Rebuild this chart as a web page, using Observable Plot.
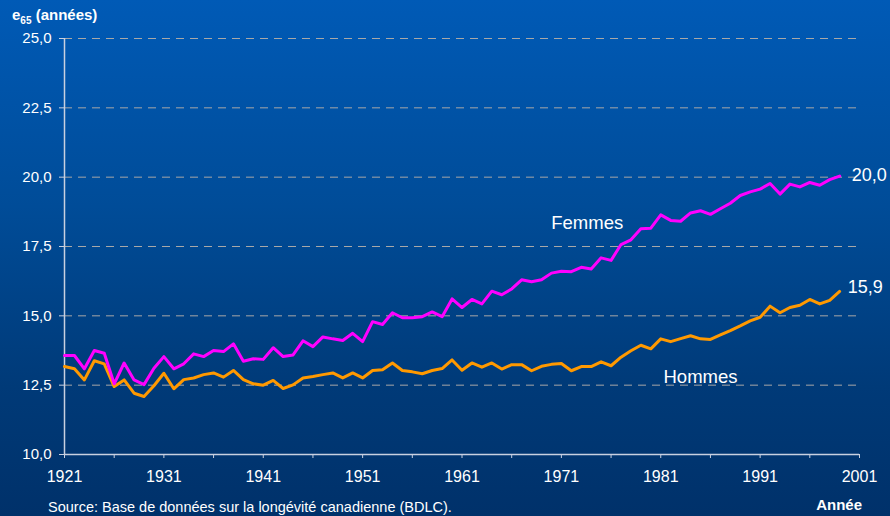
<!DOCTYPE html>
<html>
<head>
<meta charset="utf-8">
<script src="https://cdn.jsdelivr.net/npm/d3@7"></script>
<script src="https://cdn.jsdelivr.net/npm/@observablehq/plot@0.6"></script>
<style>
  html, body { margin: 0; padding: 0; }
  body { width: 890px; height: 516px; overflow: hidden; }
  #wrap {
    position: relative; width: 890px; height: 516px;
    background: linear-gradient(to bottom, #005ab6 0%, #004c98 40%, #003a78 75%, #00316a 100%);
    font-family: "Liberation Sans", Arial, sans-serif; color: #fff;
  }
  #title { position: absolute; left: 12px; top: 6px; font-size: 15px; font-weight: bold; }
  #title sub { font-size: 10px; }
  #source { position: absolute; left: 48px; top: 500px; font-size: 14.5px; line-height: 1; }
  #annee { position: absolute; right: 28px; top: 497px; font-size: 15px; font-weight: bold; line-height: 1; }
  svg { position: absolute; left: 0; top: 0; }
</style>
</head>
<body>
<div id="wrap">
  <div id="chart"></div>
  <div id="title">e<sub>65</sub> (années)</div>
  <div id="source">Source: Base de données sur la longévité canadienne (BDLC).</div>
  <div id="annee">Année</div>
</div>
<script>
const years = [1921,1922,1923,1924,1925,1926,1927,1928,1929,1930,
  1931,1932,1933,1934,1935,1936,1937,1938,1939,1940,
  1941,1942,1943,1944,1945,1946,1947,1948,1949,1950,
  1951,1952,1953,1954,1955,1956,1957,1958,1959,1960,
  1961,1962,1963,1964,1965,1966,1967,1968,1969,1970,
  1971,1972,1973,1974,1975,1976,1977,1978,1979,1980,
  1981,1982,1983,1984,1985,1986,1987,1988,1989,1990,
  1991,1992,1993,1994,1995,1996,1997,1998,1999];

const femmes = [13.57,13.57,13.09,13.75,13.65,12.55,13.30,12.69,12.52,13.11,
  13.53,13.09,13.27,13.63,13.53,13.75,13.71,13.99,13.36,13.45,
  13.43,13.85,13.53,13.59,14.10,13.89,14.24,14.17,14.11,14.37,
  14.07,14.79,14.69,15.11,14.93,14.93,14.97,15.14,14.97,15.61,
  15.30,15.59,15.43,15.89,15.76,15.97,16.30,16.23,16.30,16.54,
  16.61,16.59,16.75,16.69,17.09,17.00,17.57,17.74,18.14,18.16,
  18.64,18.44,18.41,18.71,18.79,18.66,18.86,19.06,19.34,19.47,
  19.57,19.77,19.39,19.75,19.65,19.81,19.71,19.91,20.04];

const hommes = [13.17,13.09,12.69,13.38,13.27,12.45,12.69,12.21,12.09,12.48,
  12.93,12.37,12.70,12.76,12.88,12.94,12.79,13.03,12.70,12.55,
  12.50,12.67,12.38,12.51,12.76,12.81,12.88,12.94,12.76,12.94,
  12.76,13.03,13.06,13.30,13.03,12.98,12.91,13.03,13.10,13.41,
  13.04,13.30,13.15,13.30,13.08,13.24,13.24,13.02,13.18,13.25,
  13.28,13.02,13.17,13.17,13.34,13.20,13.51,13.74,13.94,13.81,
  14.17,14.07,14.18,14.28,14.17,14.15,14.31,14.47,14.64,14.82,
  14.95,15.35,15.11,15.30,15.38,15.59,15.43,15.56,15.88];

const yTicks = [10, 12.5, 15, 17.5, 20, 22.5, 25];
const xTickMarks = [1921,1926,1931,1936,1941,1946,1951,1956,1961,1966,1971,1976,1981,1986,1991,1996,2001];
const xTickLabels = [1921,1931,1941,1951,1961,1971,1981,1991,2001];
const seriesLabels = [
  {x: 1973.6, y: 18.35, text: "Femmes"},
  {x: 1985.0, y: 12.8, text: "Hommes"}
];
const endLabels = ["20,0", "15,9"];

const fmt = d => d.toFixed(1).replace(".", ",");
const fData = years.map((y, i) => ({year: y, v: femmes[i]}));
const hData = years.map((y, i) => ({year: y, v: hommes[i]}));
const last = years.length - 1;
const ends = [
  {year: years[last], v: femmes[last], text: endLabels[0]},
  {year: years[last], v: hommes[last], text: endLabels[1]}
];

const axisColor = "#c8d0e0";
const plot = Plot.plot({
  width: 890,
  height: 516,
  marginLeft: 64,
  marginRight: 31,
  marginTop: 38,
  marginBottom: 62,
  style: {background: "transparent", color: "#fff", fontFamily: "Liberation Sans, Arial, sans-serif", overflow: "visible"},
  x: {domain: [1921, 2001]},
  y: {domain: [10, 25]},
  marks: [
    Plot.ruleY(yTicks.filter(d => d > 10), {stroke: "#a8a8a8", strokeWidth: 1, strokeDasharray: "8,6"}),
    Plot.ruleX([1921], {stroke: axisColor, strokeWidth: 1.5}),
    Plot.ruleY([10], {stroke: axisColor, strokeWidth: 1.5}),
    Plot.axisY({ticks: yTicks, tickSize: 5, tickPadding: 8, tickFormat: fmt, stroke: axisColor, fill: "#fff", fontSize: 15, label: null}),
    Plot.axisX({ticks: xTickMarks, tickSize: 4, tickFormat: () => "", stroke: axisColor, label: null}),
    Plot.axisX({ticks: xTickLabels, tickSize: 0, tickPadding: 16, tickFormat: d => String(d), fill: "#fff", fontSize: 16, label: null}),
    Plot.line(hData, {x: "year", y: "v", stroke: "#ff9900", strokeWidth: 3}),
    Plot.line(fData, {x: "year", y: "v", stroke: "#ff00ff", strokeWidth: 3}),
    Plot.text(seriesLabels, {x: "x", y: "y", text: "text", fill: "#fff", fontSize: 18.5}),
    Plot.text([ends[0]], {x: "year", y: "v", text: "text", fill: "#fff", fontSize: 18, textAnchor: "start", dx: 12, dy: -1}),
    Plot.text([ends[1]], {x: "year", y: "v", text: "text", fill: "#fff", fontSize: 18, textAnchor: "start", dx: 8, dy: -4})
  ]
});
document.getElementById("chart").appendChild(plot);
</script>
</body>
</html>
